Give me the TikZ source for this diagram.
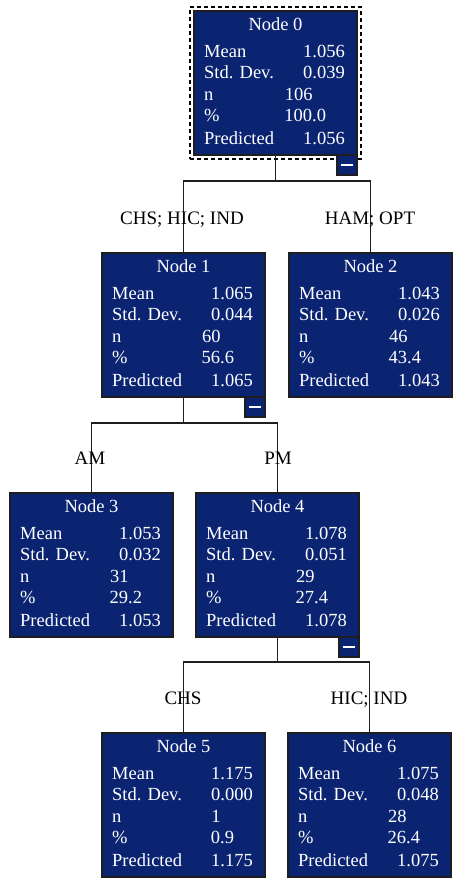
\documentclass[tikz,border=0pt]{standalone}
\usepackage{fontspec}
\setmainfont{Liberation Serif}
\usetikzlibrary{calc,fit}
\definecolor{navy}{RGB}{11,36,113}
\definecolor{edge}{RGB}{30,30,30}
\tikzset{
  treebox/.style={draw=edge, line width=1.1pt, fill=navy, minimum width=163pt, minimum height=144pt, inner sep=0pt, outer sep=0pt},
  boxfont/.style={font=\fontsize{18.5}{20}\selectfont},
  ttl/.style={boxfont, anchor=base, text=white, inner sep=0pt},
  lbl/.style={boxfont, anchor=base west, text=white, inner sep=0pt},
  val/.style={boxfont, anchor=base east, text=white, inner sep=0pt},
  dec/.style={boxfont, anchor=base west, text=white, inner sep=0pt},
  elabel/.style={anchor=base, text=black, inner sep=0pt, font=\fontsize{19}{21}\selectfont},
  conn/.style={draw=edge, line width=1.2pt},
  btn/.style={draw=edge, line width=1.1pt, fill=navy, minimum width=20pt, minimum height=20pt, inner sep=0pt, outer sep=0pt,
    path picture={\draw[white, line width=2pt] ([xshift=-6pt]path picture bounding box.center) -- ([xshift=6pt]path picture bounding box.center);}},
  selbox/.style={draw=black, line width=1.1pt, dash pattern=on 4pt off 3pt, inner sep=4pt}
}
% #1 name, #2 x, #3 y, #4 index, #5 mean, #6 sd, #7 n, #8 pct int, #9 pct frac
\newcommand\treebox[9]{%
  \node[treebox, anchor=north west] (#1) at (#2,#3) {};
  \node[ttl] (#1-t) at ($(#1.north)+(0,19)$) {Node #4};
  \node[lbl] (#1-l1) at ($(#1.north west)+(10,46)$) {Mean};
  \node[lbl] (#1-l2) at ($(#1.north west)+(10,67)$) {Std. Dev.};
  \node[lbl] (#1-l3) at ($(#1.north west)+(10,89)$) {n};
  \node[lbl] (#1-l4) at ($(#1.north west)+(10,110)$) {\%};
  \node[lbl] (#1-l5) at ($(#1.north west)+(10,133)$) {Predicted};
  \node[val] (#1-v1) at ($(#1.north east)+(-12,46)$) {#5};
  \node[val] (#1-v2) at ($(#1.north east)+(-12,67)$) {#6};
  \node[dec] (#1-v3) at ($(#1.north west)+(118,89)$) {\llap{#7}};
  \node[dec] (#1-v4) at ($(#1.north west)+(118,110)$) {\llap{#8}#9};
  \node[val] (#1-v5) at ($(#1.north east)+(-12,133)$) {#5};
}
\begin{document}
\begin{tikzpicture}[x=1pt,y=-1pt]
\useasboundingbox (0,0) rectangle (453,878);
% boxes
\treebox{n0}{194}{11}{0}{1.056}{0.039}{106}{100}{.0}
\treebox{n1}{102}{253}{1}{1.065}{0.044}{60}{56}{.6}
\treebox{n2}{289}{253}{2}{1.043}{0.026}{46}{43}{.4}
\treebox{n3}{10}{493}{3}{1.053}{0.032}{31}{29}{.2}
\treebox{n4}{196}{493}{4}{1.078}{0.051}{29}{27}{.4}
\treebox{n5}{102}{733}{5}{1.175}{0.000}{1}{0}{.9}
\treebox{n6}{288}{733}{6}{1.075}{0.048}{28}{26}{.4}
% selection frame
\node[selbox, fit=(n0)] (sel) {};
% connectors
\draw[conn] (n0.south) -- ++(0,26) coordinate (j0) -| (n1.north);
\draw[conn] (j0) -| (n2.north);
\draw[conn] (n1.south) -- ++(0,26) coordinate (j1) -| (n3.north);
\draw[conn] (j1) -| (n4.north);
\draw[conn] (n4.south) -- ++(0,25) coordinate (j4) -| (n5.north);
\draw[conn] (j4) -| (n6.north);
% collapse buttons
\node[btn, anchor=north east] (b0) at (n0.south east) {};
\node[btn, anchor=north east] (b1) at (n1.south east) {};
\node[btn, anchor=north east] (b4) at (n4.south east) {};
% edge labels
\node[elabel] (e1) at (182,224) {CHS; HIC; IND};
\node[elabel] (e2) at (370,224) {HAM; OPT};
\node[elabel] (e3) at (90,464) {AM};
\node[elabel] (e4) at (278,464) {PM};
\node[elabel] (e5) at (183,704) {CHS};
\node[elabel] (e6) at (369,704) {HIC; IND};
\end{tikzpicture}
\end{document}
